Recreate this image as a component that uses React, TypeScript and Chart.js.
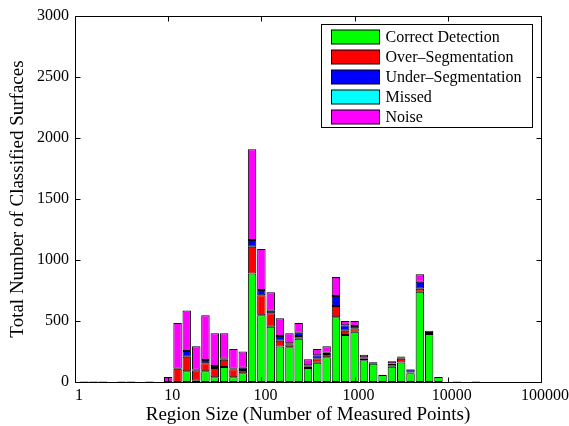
import { useEffect, useRef } from "react";
import { Chart, registerables } from "chart.js";

Chart.register(...registerables);

// Bin centres (region size, number of measured points), 10 bins per decade
const SIZES = [
  1.26, 1.58, 2, 2.51, 3.16, 3.98, 5.01, 6.31, 7.94, 10,
  12.6, 15.8, 20, 25.1, 31.6, 39.8, 50.1, 63.1, 79.4, 100,
  126, 158, 200, 251, 316, 398, 501, 631, 794, 1000,
  1259, 1585, 1995, 2512, 3162, 3981, 5012, 6310, 7943, 10000,
  12589, 15849, 19953, 25119, 31623,
];

const CORRECT = [
  0, 0, 0, 0, 0, 0, 0, 0, 0, 0,
  0, 88, 10, 88, 38, 123, 38, 71, 890, 547,
  453, 290, 284, 355, 115, 158, 202, 530, 385, 412,
  178, 150, 58, 125, 160, 72, 740, 393, 40, 0,
  0, 0, 0, 0, 0,
];

const OVER_SEG = [
  0, 0, 0, 0, 0, 0, 0, 0, 0, 0,
  109, 119, 86, 65, 77, 60, 66, 27, 218, 164,
  110, 49, 25, 22, 10, 36, 28, 93, 35, 28,
  13, 5, 0, 22, 30, 5, 25, 8, 0, 0,
  0, 0, 0, 0, 0,
];

const UNDER_SEG = [
  0, 0, 0, 0, 0, 0, 0, 0, 0, 0,
  0, 47, 5, 27, 16, 8, 5, 19, 55, 43,
  21, 38, 8, 27, 12, 25, 10, 82, 45, 19,
  11, 2, 0, 5, 8, 25, 57, 0, 0, 0,
  0, 0, 0, 0, 0,
];

const MISSED = [
  0, 0, 0, 0, 0, 0, 0, 0, 0, 0,
  0, 0, 0, 0, 0, 0, 0, 0, 0, 0,
  0, 0, 0, 0, 0, 0, 0, 0, 0, 0,
  0, 0, 0, 0, 0, 0, 0, 0, 0, 0,
  0, 0, 0, 0, 0,
];

const NOISE = [
  4, 4, 4, 0, 4, 4, 0, 4, 0, 40,
  375, 333, 192, 367, 268, 208, 161, 134, 744, 336,
  151, 145, 82, 80, 49, 51, 53, 156, 35, 41,
  22, 7, 2, 18, 12, 5, 61, 20, 0, 0,
  4, 0, 4, 0, 0,
];

const SERIES_LABELS = [
  "Correct Detection",
  "Over–Segmentation",
  "Under–Segmentation",
  "Missed",
  "Noise",
];
const SERIES_COLORS = ["#00ff00", "#ff0000", "#0000ff", "#00ffff", "#ff00ff"];
const X_TICKS = [1, 10, 100, 1000, 10000, 100000];
const Y_MAX = 3000;
const Y_STEP = 500;

const FONT = "'Liberation Serif', 'Times New Roman', serif";

const framePlugin = {
  id: "matlabFrame",
  afterDatasetsDraw(chart: any) {
    const { ctx, chartArea: a, scales } = chart;
    const L = Math.round(a.left) + 0.5;
    const R = Math.round(a.right) + 0.5;
    const T = Math.round(a.top) + 0.5;
    const B = Math.round(a.bottom) + 0.5;
    ctx.save();
    ctx.strokeStyle = "#000";
    ctx.lineWidth = 1;
    ctx.beginPath();
    ctx.rect(L, T, R - L, B - T);
    ctx.stroke();
    const tl = 5;
    ctx.beginPath();
    scales.x.ticks.forEach((t: any) => {
      const px = Math.round(scales.x.getPixelForValue(t.value)) + 0.5;
      ctx.moveTo(px, B);
      ctx.lineTo(px, B - tl);
      ctx.moveTo(px, T);
      ctx.lineTo(px, T + tl);
    });
    scales.y.ticks.forEach((t: any) => {
      const py = Math.round(scales.y.getPixelForValue(t.value)) + 0.5;
      ctx.moveTo(L, py);
      ctx.lineTo(L + tl, py);
      ctx.moveTo(R, py);
      ctx.lineTo(R - tl, py);
    });
    ctx.stroke();

    // legend box (top-right, inside axes)
    const boxW = 211;
    const boxH = 103;
    const bx = Math.round(a.right) - 9 - boxW + 0.5;
    const by = Math.round(a.top) + 8 + 0.5;
    ctx.fillStyle = "#fff";
    ctx.fillRect(bx, by, boxW, boxH);
    ctx.strokeRect(bx, by, boxW, boxH);
    ctx.font = `16px ${FONT}`;
    ctx.textBaseline = "middle";
    ctx.textAlign = "left";
    chart.data.datasets.forEach((ds: any, i: number) => {
      const cy = by + 12 + 20 * i;
      ctx.fillStyle = ds.backgroundColor;
      ctx.fillRect(bx + 10, Math.round(cy - 7), 48, 14);
      ctx.strokeStyle = "#000";
      ctx.strokeRect(bx + 10, Math.round(cy - 7), 48, 14);
      ctx.fillStyle = "#000";
      ctx.fillText(ds.label, bx + 64, cy + 1);
    });
    ctx.restore();
  },
};

export default function App() {
  const canvasRef = useRef<HTMLCanvasElement | null>(null);

  useEffect(() => {
    if (!canvasRef.current) return;
    const seriesData = [CORRECT, OVER_SEG, UNDER_SEG, MISSED, NOISE];
    const chart = new Chart(canvasRef.current, {
      type: "bar",
      data: {
        labels: SIZES,
        datasets: seriesData.map((d, i) => ({
          label: SERIES_LABELS[i],
          data: d,
          backgroundColor: SERIES_COLORS[i],
          borderColor: "#000",
          borderWidth: 1,
          borderSkipped: false,
          barPercentage: 0.92,
          categoryPercentage: 1,
        })),
      },
      options: {
        responsive: false,
        animation: false,
        layout: { padding: { top: 16, right: 28, left: 0, bottom: 0 } },
        plugins: {
          legend: { display: false },
          tooltip: { enabled: false },
        },
        scales: {
          x: {
            type: "logarithmic",
            stacked: true,
            min: 1,
            max: 100000,
            grid: { display: false, drawTicks: false },
            border: { display: false },
            afterBuildTicks: (s: any) => {
              s.ticks = X_TICKS.map((v) => ({ value: v }));
            },
            afterFit: (s: any) => {
              s.height = 44;
            },
            ticks: {
              autoSkip: false,
              maxRotation: 0,
              padding: 4,
              labelOffset: 4,
              color: "#000",
              font: { family: FONT, size: 16 },
              callback: (v: any) => String(v),
            },
            title: {
              display: true,
              text: "Region Size (Number of Measured Points)",
              color: "#000",
              font: { family: FONT, size: 19 },
              padding: { top: 0, bottom: 0 },
            },
          },
          y: {
            stacked: true,
            min: 0,
            max: Y_MAX,
            grid: { display: false, drawTicks: false },
            border: { display: false },
            afterFit: (s: any) => {
              s.width = 75;
            },
            ticks: {
              stepSize: Y_STEP,
              padding: 6,
              color: "#000",
              font: { family: FONT, size: 16 },
              callback: (v: any) => String(v),
            },
            title: {
              display: true,
              text: "Total Number of Classified Surfaces",
              color: "#000",
              font: { family: FONT, size: 19 },
              padding: { top: 7, bottom: 0 },
            },
          },
        },
      },
      plugins: [framePlugin],
    } as any);
    return () => chart.destroy();
  }, []);

  return (
    <div style={{ position: "fixed", left: 0, top: 0, width: 569, height: 426, background: "#fff" }}>
      <canvas ref={canvasRef} width={569} height={426} style={{ display: "block" }} />
    </div>
  );
}
